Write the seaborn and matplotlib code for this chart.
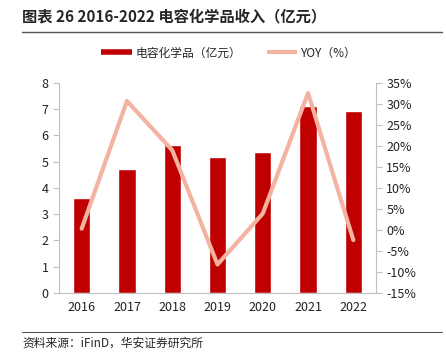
import numpy as np
import pandas as pd
import matplotlib
matplotlib.use("Agg")
import matplotlib.pyplot as plt
import seaborn as sns
from matplotlib.lines import Line2D
from matplotlib.ticker import FuncFormatter, FixedLocator

sns.set_style("white")
plt.rcParams['font.family'] = ['Noto Sans CJK SC', 'DejaVu Sans']

# 数据
years = ["2016", "2017", "2018", "2019", "2020", "2021", "2022"]
revenue = [3.62, 4.73, 5.63, 5.17, 5.37, 7.12, 6.95]
yoy = [0.3, 30.7, 19.0, -8.2, 3.9, 32.6, -2.4]

bar_color = "#C00000"
line_color = "#F4B3A0"
spine_color = "#BFBFBF"

df = pd.DataFrame({"year": years, "revenue": revenue, "yoy": yoy})

fig = plt.figure(figsize=(4.46, 3.56), dpi=100)
ax = fig.add_axes([0.1323, 0.177, 0.7107, 0.59])

sns.barplot(data=df, x="year", y="revenue", color=bar_color, width=0.38,
            saturation=1, ax=ax)
ax.set_ylim(0, 8)
ax.set_yticks(range(0, 9))
ax.set_xlim(-0.5, len(years) - 0.5)
ax.set_xlabel("")
ax.set_ylabel("")

ax2 = ax.twinx()
ax2.plot(np.arange(len(years)), df["yoy"], color=line_color, lw=3,
         solid_capstyle="round")
ax2.set_ylim(-15, 35)
ax2.set_yticks(range(-15, 40, 5))
ax2.yaxis.set_major_formatter(FuncFormatter(lambda v, p: f"{int(v)}%"))

for a in (ax, ax2):
    for s in a.spines.values():
        s.set_visible(False)
    a.tick_params(labelsize=9, colors="#222222", length=4, color=spine_color)
ax.spines["left"].set_visible(True)
ax.spines["left"].set_color(spine_color)
ax.spines["bottom"].set_visible(True)
ax.spines["bottom"].set_color(spine_color)
ax2.spines["right"].set_visible(True)
ax2.spines["right"].set_color(spine_color)

# 类别间的刻度
ax.tick_params(axis="x", length=0, pad=6)
ax.xaxis.set_minor_locator(FixedLocator(np.arange(-0.5, len(years), 1)))
ax.tick_params(axis="x", which="minor", length=4, color=spine_color)

handles = [Line2D([0], [0], color=bar_color, lw=4, solid_capstyle="butt"),
           Line2D([0], [0], color=line_color, lw=3, solid_capstyle="butt")]
fig.legend(handles, ["电容化学品（亿元）", "YOY（%）"], loc="center",
           bbox_to_anchor=(0.513, 0.851), ncol=2, frameon=False, fontsize=8.5,
           handlelength=2.6, handletextpad=0.3, columnspacing=2.2)

fig.text(0.05, 0.955, "图表 26 2016-2022 电容化学品收入（亿元）", fontsize=11,
         fontweight="bold", va="center", ha="left")
fig.add_artist(Line2D([0.05, 0.99], [0.91, 0.91], color="#555555", lw=1))
fig.add_artist(Line2D([0.05, 0.99], [0.067, 0.067], color="#555555", lw=0.8))
fig.text(0.05, 0.035, "资料来源：iFinD，华安证券研究所", fontsize=8.5,
         va="center", ha="left")

fig.savefig("out.png", dpi=100)
